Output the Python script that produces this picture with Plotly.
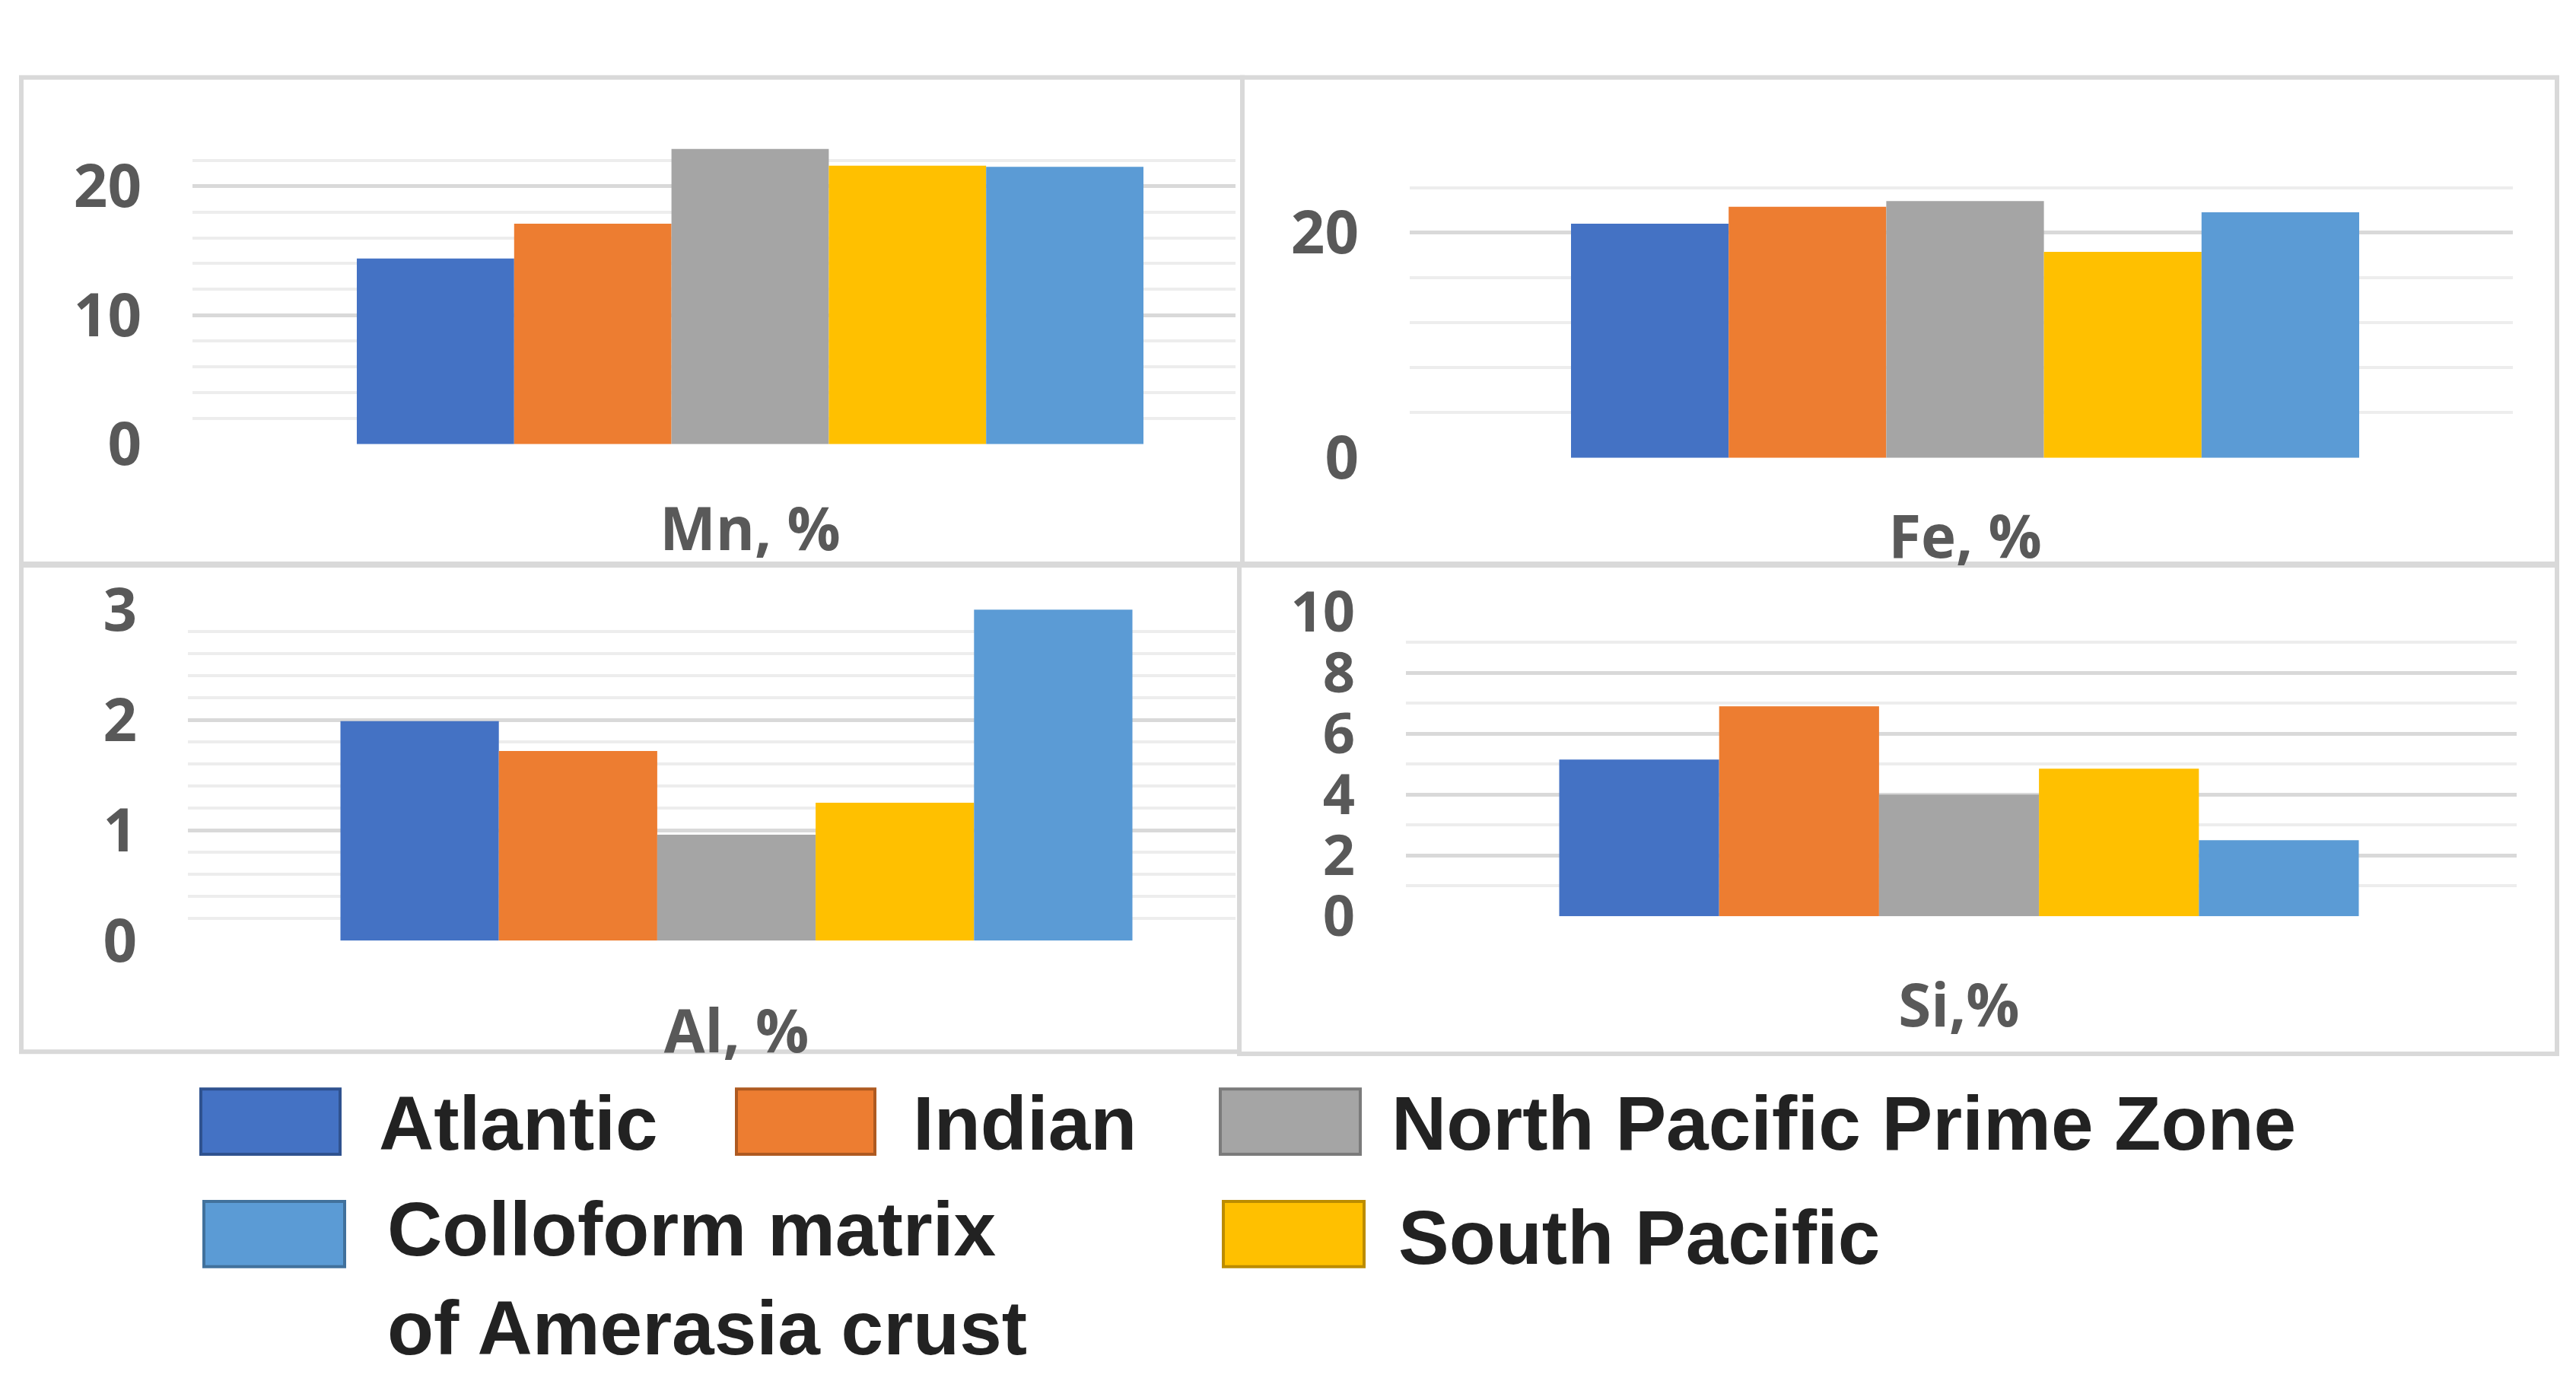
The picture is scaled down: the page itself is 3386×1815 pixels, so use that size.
import plotly.graph_objects as go

# --- DATOS ---
SERIES = ["Atlantic", "Indian", "North Pacific Prime Zone", "South Pacific",
          "Colloform matrix<br>of Amerasia crust"]
COLORS = ["#4472C4", "#ED7D31", "#A5A5A5", "#FFC000", "#5B9BD5"]
EDGES = ["#2F528F", "#AE5A21", "#7B7B7B", "#BC8C00", "#41719C"]

ELEMENTS = ["Mn, %", "Fe, %", "Al, %", "Si,%"]
MN = [14.4, 17.1, 22.9, 21.6, 21.5]
FE = [20.8, 22.3, 22.8, 18.3, 21.8]
AL = [1.99, 1.72, 0.96, 1.25, 3.01]
SI = [5.15, 6.9, 4.0, 4.85, 2.5]
VALUES = [MN, FE, AL, SI]

# --- GEOMETRIA (pixeles de la imagen 3386x1815) ---
W, H = 3386, 1815
# area de trazado (x0, x1, linea superior, linea del cero), centro y ancho del grupo de barras
PANELS = [
    dict(x0=245, x1=1616, ytop=120, ybot=552, ymax=24, dtick=10, minor=2, cx=978, gw=1034, stand=60, fs=78),
    dict(x0=1845, x1=3295, ytop=131, ybot=571, ymax=28, dtick=20, minor=4, cx=2575, gw=1036, stand=52, fs=78),
    dict(x0=239, x1=1616, ytop=783, ybot=1245, ymax=3, dtick=1, minor=0.2, cx=960, gw=1041, stand=68, fs=78),
    dict(x0=1840, x1=3300, ytop=786, ybot=1211, ymax=10, dtick=2, minor=1, cx=2567, gw=1051, stand=66, fs=74),
]
BOXES = [(20, 40, 1625, 719), (1625, 40, 3353, 719), (20, 721, 1621, 1400), (1621, 721, 3353, 1403)]

# leyenda: (x0 muestra, x1 muestra, y0, y1, x texto, y centro texto)
LEGEND_POS = [
    (256, 439, 1452, 1543, 488, 1500),
    (960, 1142, 1452, 1543, 1190, 1500),
    (1596, 1780, 1452, 1543, 1819, 1500),
    (1600, 1785, 1609, 1700, 1828, 1659),
    (260, 445, 1609, 1700, 499, 1716),
]

BARGAP = 0.25


def px(x):
    return x / W


def py(y):
    return 1 - y / H


def main():
    fig = go.Figure()

    for i, (elem, vals, p) in enumerate(zip(ELEMENTS, VALUES, PANELS)):
        n = "" if i == 0 else str(i + 1)
        for name, color, v in zip(SERIES, COLORS, vals):
            fig.add_trace(go.Bar(
                x=[elem], y=[v], name=name, marker_color=color, marker_line_width=0,
                xaxis="x" + n, yaxis="y" + n, showlegend=False,
            ))

        # rango de x para que el grupo de barras caiga donde esta en la figura original
        plot_w = p["x1"] - p["x0"]
        span = (1 - BARGAP) * plot_w / p["gw"]
        c = (p["cx"] - p["x0"]) / plot_w
        tick_font = dict(family="Open Sans", size=p["fs"], color="#595959", weight="bold")
        fig.update_layout({
            "xaxis" + n: dict(
                domain=[px(p["x0"]), px(p["x1"])], anchor="y" + n,
                range=[-c * span, (1 - c) * span],
                type="category", showgrid=False, zeroline=False, showline=False, ticks="",
                tickfont=dict(family="Open Sans", size=78, color="#595959", weight="bold"),
                ticklabelstandoff=p["stand"],
            ),
            "yaxis" + n: dict(
                domain=[py(p["ybot"]), py(p["ytop"])], anchor="x" + n,
                range=[0, p["ymax"]], tick0=0, dtick=p["dtick"],
                showgrid=True, gridcolor="#D9D9D9", gridwidth=5,
                minor=dict(dtick=p["minor"], tick0=0, showgrid=True, gridcolor="#EDEDED", gridwidth=4),
                zeroline=False, showline=False, ticks="",
                tickfont=tick_font, ticklabelstandoff=66,
            ),
        })

    shapes = []
    for (x0, y0, x1, y1) in BOXES:
        shapes.append(dict(type="rect", xref="paper", yref="paper",
                           x0=px(x0), x1=px(x1), y0=py(y1), y1=py(y0),
                           line=dict(color="#D9D9D9", width=6), fillcolor="rgba(0,0,0,0)",
                           layer="below"))

    annotations = []
    for name, color, edge, pos in zip(SERIES, COLORS, EDGES, LEGEND_POS):
        sx0, sx1, sy0, sy1, tx, ty = pos
        shapes.append(dict(type="rect", xref="paper", yref="paper",
                           x0=px(sx0), x1=px(sx1), y0=py(sy1), y1=py(sy0),
                           line=dict(color=edge, width=4), fillcolor=color))
        annotations.append(dict(xref="paper", yref="paper", x=px(tx), y=py(ty),
                                xanchor="left", yanchor="middle", align="left",
                                text=name, showarrow=False,
                                font=dict(family="Liberation Sans", size=100,
                                          color="#222222", weight="bold")))

    fig.update_layout(
        width=W, height=H,
        margin=dict(l=0, r=0, t=0, b=0),
        paper_bgcolor="white", plot_bgcolor="rgba(0,0,0,0)",
        barmode="group", bargap=BARGAP, bargroupgap=0,
        shapes=shapes, annotations=annotations,
    )

    fig.write_html("out.html")


if __name__ == "__main__":
    main()
